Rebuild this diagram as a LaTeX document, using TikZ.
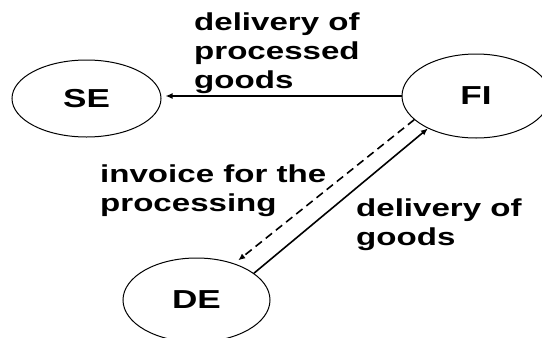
\documentclass[tikz,border=0pt]{standalone}
\usepackage{fontspec}
\usetikzlibrary{shapes.geometric,arrows.meta}
\newfontfamily\diagfont{Liberation Sans Bold}[FakeStretch=1.35]

\tikzset{
  country/.style={draw=black, line width=1pt, ellipse, inner sep=0pt,
    font=\diagfont\fontsize{26}{30}\selectfont},
  flowlabel/.style={anchor=north west, inner sep=0pt, align=left,
    font=\diagfont\fontsize{24.5}{28.7}\selectfont},
  flow/.style={line width=1.6pt, -{Latex[length=7pt,width=6pt]}},
  invoice/.style={flow, dash pattern=on 8pt off 5pt}
}

\begin{document}
\begin{tikzpicture}[x=1pt, y=-1pt]
  \useasboundingbox (0,0) rectangle (542,338);
  \clip (0,0) rectangle (542,338);

  % trading partners
  \node[country, minimum width=149pt, minimum height=77pt] (SE) at (86.5,98.5) {SE};
  \node[country, minimum width=148pt, minimum height=84pt] (FI) at (476,96) {FI};
  \node[country, minimum width=147pt, minimum height=84pt] (DE) at (196.5,300) {DE};

  % flows of goods and invoices
  \draw[flow, shorten >=4pt] (FI.west) -- (FI.west -| SE.east);
  \draw[invoice, shorten >=5pt] (FI.201) -- (DE.44);
  \draw[flow] (DE.25) -- (FI.214);

  % labels
  \node[flowlabel] (l1) at (194,13) {delivery of\\processed\\goods};
  \node[flowlabel] (l2) at (100,165) {invoice for the\\processing};
  \node[flowlabel] (l3) at (356,199) {delivery of\\goods};
\end{tikzpicture}
\end{document}
